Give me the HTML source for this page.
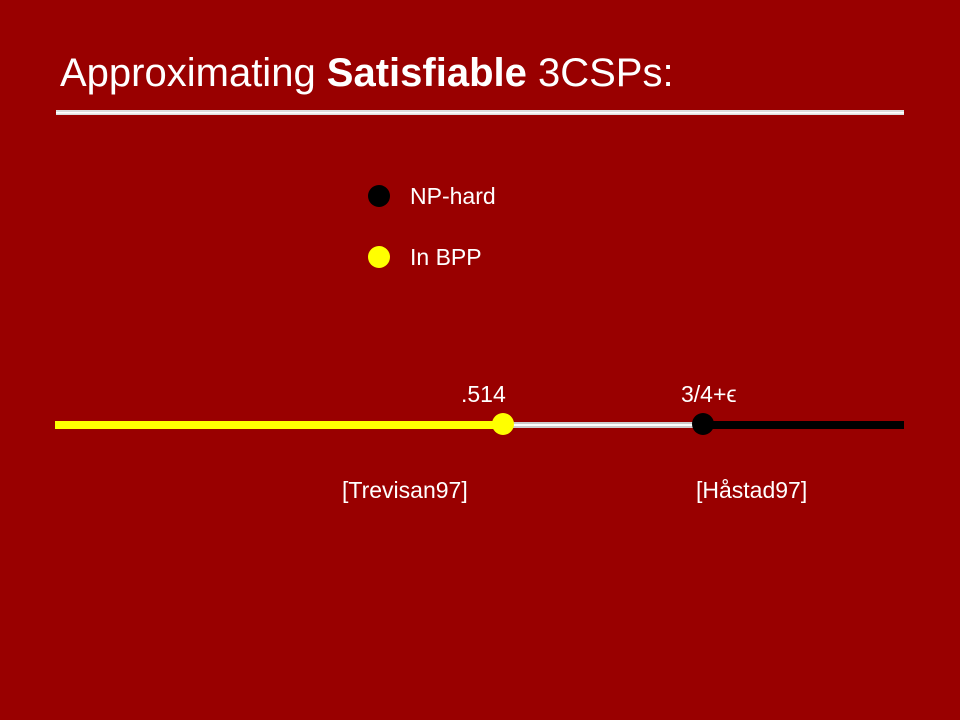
<!DOCTYPE html>
<html><head><meta charset="utf-8"><style>
body{margin:0;width:960px;height:720px;background:#990000;overflow:hidden;font-family:"Liberation Sans",sans-serif}
svg{display:block}
</style></head><body>
<svg width="960" height="720">
<rect width="960" height="720" fill="#990000"/>
<text x="60" y="86" font-size="40" fill="#fff" font-family="Liberation Sans, sans-serif">Approximating <tspan font-weight="bold">Satisfiable</tspan> 3CSPs:</text>
<rect x="56" y="110" width="848" height="5" fill="#ddd"/>
<rect x="56" y="112" width="848" height="1.5" fill="#fff"/>
<g>
<circle cx="379" cy="196" r="11" fill="#000"/>
<text x="410" y="204" font-size="23" fill="#fff">NP-hard</text>
<circle cx="379" cy="257" r="11" fill="#ffff00"/>
<text x="410" y="265" font-size="23" fill="#fff">In BPP</text>
</g>
<g id="line"></g>
<text x="342" y="498" font-size="23" fill="#fff">[Trevisan97]</text>
<text x="696" y="498" font-size="23" fill="#fff">[Håstad97]</text>
</svg>
<script>
const points=[0.514,0.75];
const labels=[".514","3/4+\u03F5"];
const x0=55,x1=904,y=425;
// map: value -> px (calibrated so .514 -> 503, .75 -> 703)
function sx(v){return 503+(v-0.514)*(200/0.236);}
const g=document.getElementById('line');
const ns='http://www.w3.org/2000/svg';
function mk(t,a,n){const e=document.createElementNS(ns,t);for(const k in a)e.setAttribute(k,a[k]);g.appendChild(e);return e;}
const a=sx(points[0]),b=sx(points[1]);
mk('rect',{x:x0,y:y-4,width:a-x0,height:8,fill:'#ffff00'},'bpp-segment');
mk('rect',{x:a,y:y-3,width:b-a,height:6,fill:'#ccc'},'gap-segment');
mk('rect',{x:a,y:y-1,width:b-a,height:2,fill:'#fff'},'gap-highlight');
mk('rect',{x:b,y:y-4,width:x1-b,height:8,fill:'#000'},'np-hard-segment');
mk('circle',{cx:a,cy:y-1,r:11,fill:'#ffff00'},'point-trevisan');
mk('circle',{cx:b,cy:y-1,r:11,fill:'#000'},'point-hastad');
const t1=mk('text',{x:a-42,y:402,'font-size':23,fill:'#fff'},'label-514');t1.textContent=labels[0];
const t2=mk('text',{x:b-22,y:402,'font-size':23,fill:'#fff'},'label-three-quarters');t2.textContent=labels[1];
</script>
</body></html>
